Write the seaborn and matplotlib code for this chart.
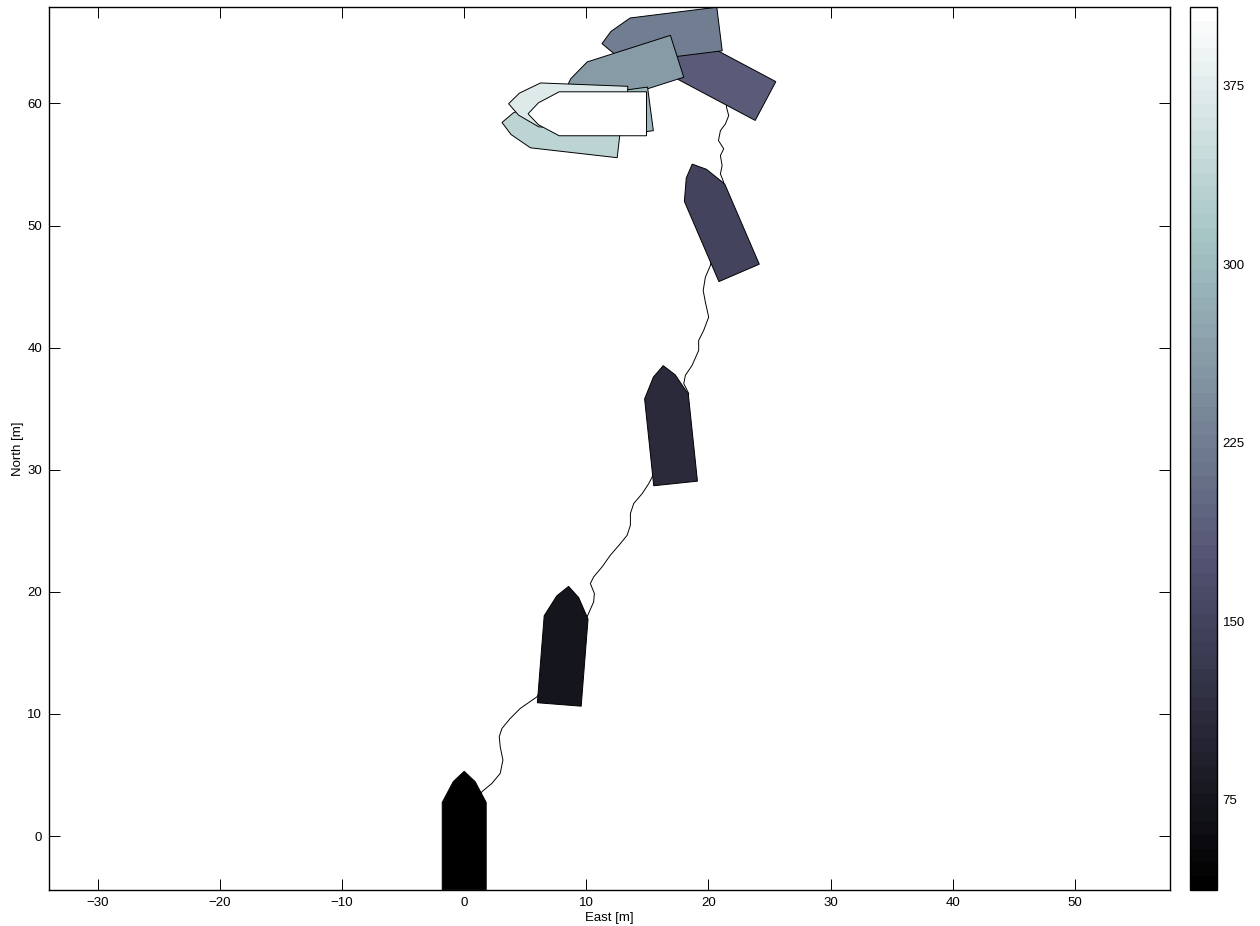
import numpy as np
import pandas as pd
import matplotlib
matplotlib.use("Agg")
import matplotlib.pyplot as plt
import seaborn as sns

# boat snapshots: position [m], heading [deg from north], time [s]
boat_east = [0.0, 8.13, 16.85, 20.77, 20.79, 16.54, 13.24, 10.89, 8.36, 8.93, 10.53]
boat_north = [0.0, 15.16, 33.25, 50.16, 62.26, 65.55, 62.52, 58.97, 57.84, 59.77, 59.15]
boat_heading = [0.0, 4.5, -6.0, -23.3, -62.0, -97.1, -107.7, -97.6, -83.5, -87.8, -90.0]
boat_time = [37, 74, 111, 148, 185, 223, 260, 297, 334, 371, 408]

# hull outline in body frame (forward, starboard) [m]
hull_fwd = [-4.4, -4.4, 2.75, 4.45, 5.3, 4.45, 2.75]
hull_stb = [-1.8, 1.8, 1.8, 0.9, 0.0, -0.9, -1.8]

# recorded track (north-east)
track_east = [0.0, 0.8, 1.45, 2.27, 2.95, 3.17, 2.95, 2.87, 3.09, 3.77,
              4.59, 5.96, 8.13, 10.06, 10.6, 10.66, 10.33, 10.6, 11.29, 11.97,
              12.79, 13.34, 13.61, 13.61, 13.88, 14.57, 15.11, 15.39, 16.85, 18.39,
              17.98, 18.11, 18.66, 19.2, 19.2, 19.61, 20.02, 19.75, 19.57, 19.75,
              20.16, 20.77, 21.25, 20.98, 21.12, 20.98, 21.25, 20.82, 20.98, 21.39,
              21.66, 21.48, 21.48, 20.79, 16.54, 13.24, 10.89, 8.36, 8.93, 10.53]
track_north = [0.0, 2.0, 3.63, 4.31, 5.13, 6.22, 7.31, 8.13, 8.81, 9.63,
               10.45, 11.4, 15.16, 17.95, 19.17, 19.86, 20.68, 21.22, 22.04, 23.0,
               23.95, 24.63, 25.45, 26.41, 27.23, 28.04, 28.86, 29.4, 33.25, 36.23,
               37.05, 37.73, 38.54, 39.77, 40.59, 41.41, 42.5, 43.72, 44.68, 45.77,
               46.73, 50.16, 53.54, 54.23, 54.91, 55.73, 56.28, 56.96, 57.77, 58.32,
               59.0, 59.68, 59.96, 62.26, 65.55, 62.52, 58.97, 57.84, 59.77, 59.15]

sns.set_style("white")
plt.rcParams['font.family'] = ['Liberation Sans', 'DejaVu Sans']
plt.rcParams['font.size'] = 9.5
for key in ['text.color', 'axes.labelcolor', 'xtick.color', 'ytick.color']:
    plt.rcParams[key] = 'black'

fig = plt.figure(figsize=(12.6, 9.26), dpi=100)
ax = fig.add_axes([0.0389, 0.0389, 0.8897, 0.9536])
cax = fig.add_axes([0.9444, 0.0389, 0.0214, 0.9536])

track = pd.DataFrame({'East': track_east, 'North': track_north})
sns.lineplot(data=track, x='East', y='North', sort=False, estimator=None,
             color='black', linewidth=0.7, ax=ax, zorder=1)

cmap = plt.get_cmap('bone', 64)
norm = matplotlib.colors.Normalize(min(boat_time), max(boat_time))
fwd = np.array(hull_fwd)
stb = np.array(hull_stb)
for e0, n0, hdg, t in zip(boat_east, boat_north, boat_heading, boat_time):
    psi = np.deg2rad(hdg)
    e = e0 + fwd * np.sin(psi) + stb * np.cos(psi)
    n = n0 + fwd * np.cos(psi) - stb * np.sin(psi)
    ax.fill(e, n, facecolor=cmap(norm(t)), edgecolor='black', linewidth=0.7, zorder=2)

ax.set_xlim(-34.0, 57.8)
ax.set_ylim(-4.42, 67.9)
ax.set_xticks(np.arange(-30, 51, 10))
ax.set_yticks(np.arange(0, 61, 10))
ax.tick_params(direction='in', length=8, width=0.7, top=True, right=True,
               bottom=True, left=True, pad=5, labelsize=9.5)
ax.set_xlabel('East [m]', labelpad=2)
ax.set_ylabel('North [m]', labelpad=2)
for sp in ax.spines.values():
    sp.set_visible(True)
    sp.set_color('black')
    sp.set_linewidth(1.0)

sm = matplotlib.cm.ScalarMappable(norm=norm, cmap=cmap)
cb = fig.colorbar(sm, cax=cax)
cb.set_ticks([75, 150, 225, 300, 375])
cb.outline.set_linewidth(1.0)
cb.outline.set_edgecolor('black')
cax.tick_params(direction='in', length=6.5, width=0.7, left=True, right=True,
                labelsize=9.5, pad=4)

fig.savefig('out.png', dpi=100)
